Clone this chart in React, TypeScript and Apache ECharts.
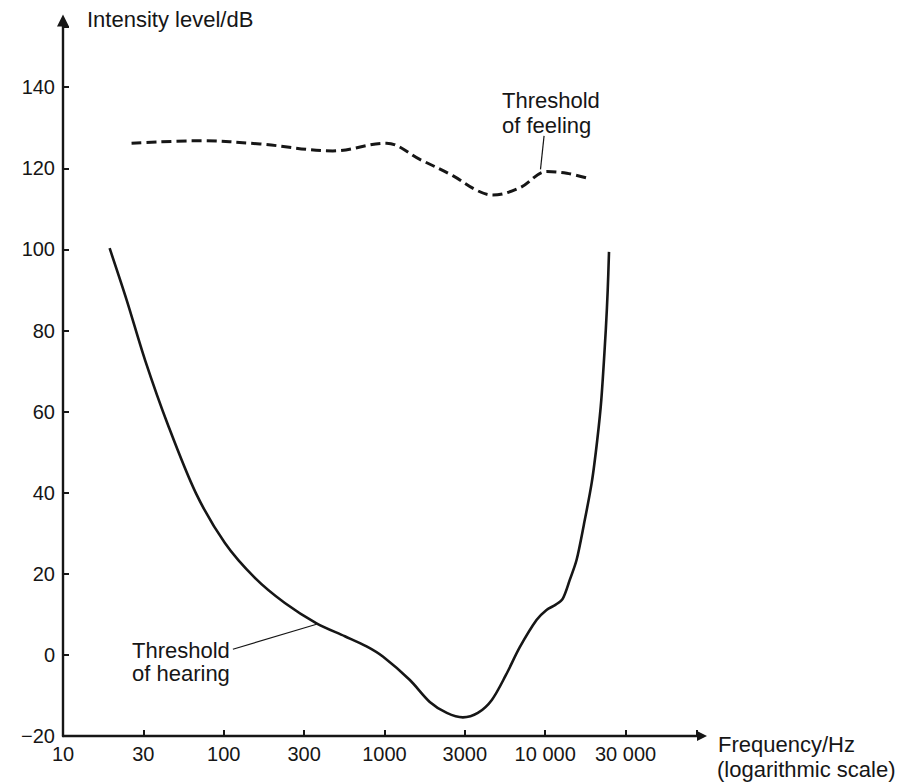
import React, { useEffect, useRef } from 'react';
import * as echarts from 'echarts';

// Axis tick labels (frequency axis is logarithmic, ticks every half decade)
const freqTickLabels = ['10', '30', '100', '300', '1000', '3000', '10 000', '30 000'];

// Threshold of hearing (solid curve): frequency in Hz, level in dB
const hearingFreq = [19.5, 24.9, 32.4, 45.0, 67.1, 101.7, 156.3, 240, 378, 567, 774, 977, 1439, 1914, 2443, 3076, 3811, 4656, 5690, 6950, 8830, 10190, 11640, 12870, 14220, 15670, 17380, 19500, 21080, 22340, 23820, 24490, 24950];
const hearingDb = [100.3, 87.5, 72.7, 56.7, 39.9, 27.6, 19.0, 12.8, 7.8, 4.6, 2.1, -0.4, -6.2, -11.6, -14.3, -15.4, -14.3, -11.1, -5.0, 1.9, 8.6, 11.1, 12.4, 13.9, 18.5, 23.4, 32.0, 42.6, 53.0, 62.9, 80.1, 90.0, 99.4];

// Threshold of feeling (dashed curve)
const feelingFreq = [26.7, 71.1, 168, 477, 1030, 1660, 2660, 3740, 4720, 6950, 10230, 13620, 18930];
const feelingDb = [126.2, 126.8, 126.0, 124.3, 126.2, 122.2, 118.2, 114.6, 113.4, 115.2, 119.2, 118.8, 117.4];

// Leader lines of the annotations: [freq, dB] pairs
const hearingLeader = [[114, 1.4], [378, 7.55]];
const feelingLeader = [[9840, 128.0], [9350, 119.75]];

const INK = '#161616';
const FONT = '"Liberation Sans", Arial, Helvetica, sans-serif';

function freqLabel(v: number): string {
  const h = 2 * Math.log10(v);
  const r = Math.round(h);
  if (Math.abs(h - r) > 0.01) return '';
  const idx = r - 2;
  return freqTickLabels[idx] ?? '';
}

function dbLabel(v: number): string {
  if (Math.abs(v % 20) > 1e-6) return '';
  if (v < 0) return '\u2212' + Math.abs(v);
  return String(v);
}

export default function App() {
  const ref = useRef<HTMLDivElement>(null);
  useEffect(() => {
    if (!ref.current) return;
    const chart = echarts.init(ref.current, undefined, { renderer: 'svg' });
    const textStyle = (text: string, size: number) => ({
      text,
      fontSize: size,
      fontFamily: FONT,
      fill: INK,
      align: 'left',
      verticalAlign: 'middle',
    });
    chart.setOption({
      animation: false,
      backgroundColor: '#ffffff',
      grid: { left: 63, right: 207, top: 26.4, bottom: 46 },
      xAxis: {
        type: 'log',
        logBase: Math.sqrt(10),
        min: 10,
        max: 88000,
        axisLine: {
          show: true,
          onZero: false,
          symbol: ['none', 'triangle'],
          symbolSize: [10, 10],
          symbolOffset: [0, 5],
          lineStyle: { color: INK, width: 2.4 },
        },
        axisTick: { show: true, inside: true, length: 6, lineStyle: { color: INK, width: 2 } },
        minorTick: { show: false },
        splitLine: { show: false },
        minorSplitLine: { show: false },
        axisLabel: {
          formatter: freqLabel,
          color: INK,
          fontSize: 20,
          fontFamily: FONT,
          margin: 8,
        },
      },
      yAxis: {
        type: 'value',
        min: -20,
        max: 155,
        interval: 20,
        axisLine: {
          show: true,
          onZero: false,
          symbol: ['none', 'triangle'],
          symbolSize: [12, 12],
          symbolOffset: [0, 6],
          lineStyle: { color: INK, width: 2.4 },
        },
        axisTick: { show: true, inside: true, length: 6, lineStyle: { color: INK, width: 2 } },
        splitLine: { show: false },
        axisLabel: {
          formatter: dbLabel,
          color: INK,
          fontSize: 20,
          fontFamily: FONT,
          margin: 8,
        },
      },
      series: [
        {
          name: 'Threshold of hearing',
          type: 'line',
          data: hearingFreq.map((f, i) => [f, hearingDb[i]]),
          smooth: 0.3,
          symbol: 'none',
          lineStyle: { color: INK, width: 2.6 },
          markLine: {
            silent: true,
            symbol: ['none', 'none'],
            label: { show: false },
            lineStyle: { color: INK, width: 1.2, type: 'solid' },
            data: [[{ coord: hearingLeader[0] }, { coord: hearingLeader[1] }]],
          },
        },
        {
          name: 'Threshold of feeling',
          type: 'line',
          data: feelingFreq.map((f, i) => [f, feelingDb[i]]),
          smooth: 0.35,
          symbol: 'none',
          lineStyle: { color: INK, width: 3, type: [10, 5] },
          markLine: {
            silent: true,
            symbol: ['none', 'none'],
            label: { show: false },
            lineStyle: { color: INK, width: 1.2, type: 'solid' },
            data: [[{ coord: feelingLeader[0] }, { coord: feelingLeader[1] }]],
          },
        },
      ],
      graphic: [
        { type: 'text', x: 87, y: 19, style: textStyle('Intensity level/dB', 22) },
        { type: 'text', x: 718, y: 744, style: textStyle('Frequency/Hz', 22) },
        { type: 'text', x: 717, y: 769, style: textStyle('(logarithmic scale)', 22) },
        { type: 'text', x: 502, y: 100, style: textStyle('Threshold', 22) },
        { type: 'text', x: 502, y: 125, style: textStyle('of feeling', 22) },
        { type: 'text', x: 132, y: 650, style: textStyle('Threshold', 22) },
        { type: 'text', x: 132, y: 673, style: textStyle('of hearing', 22) },
      ],
    });
    return () => chart.dispose();
  }, []);
  return (
    <div
      ref={ref}
      style={{ position: 'absolute', left: 0, top: 0, width: 904, height: 782, background: '#fff' }}
    />
  );
}
